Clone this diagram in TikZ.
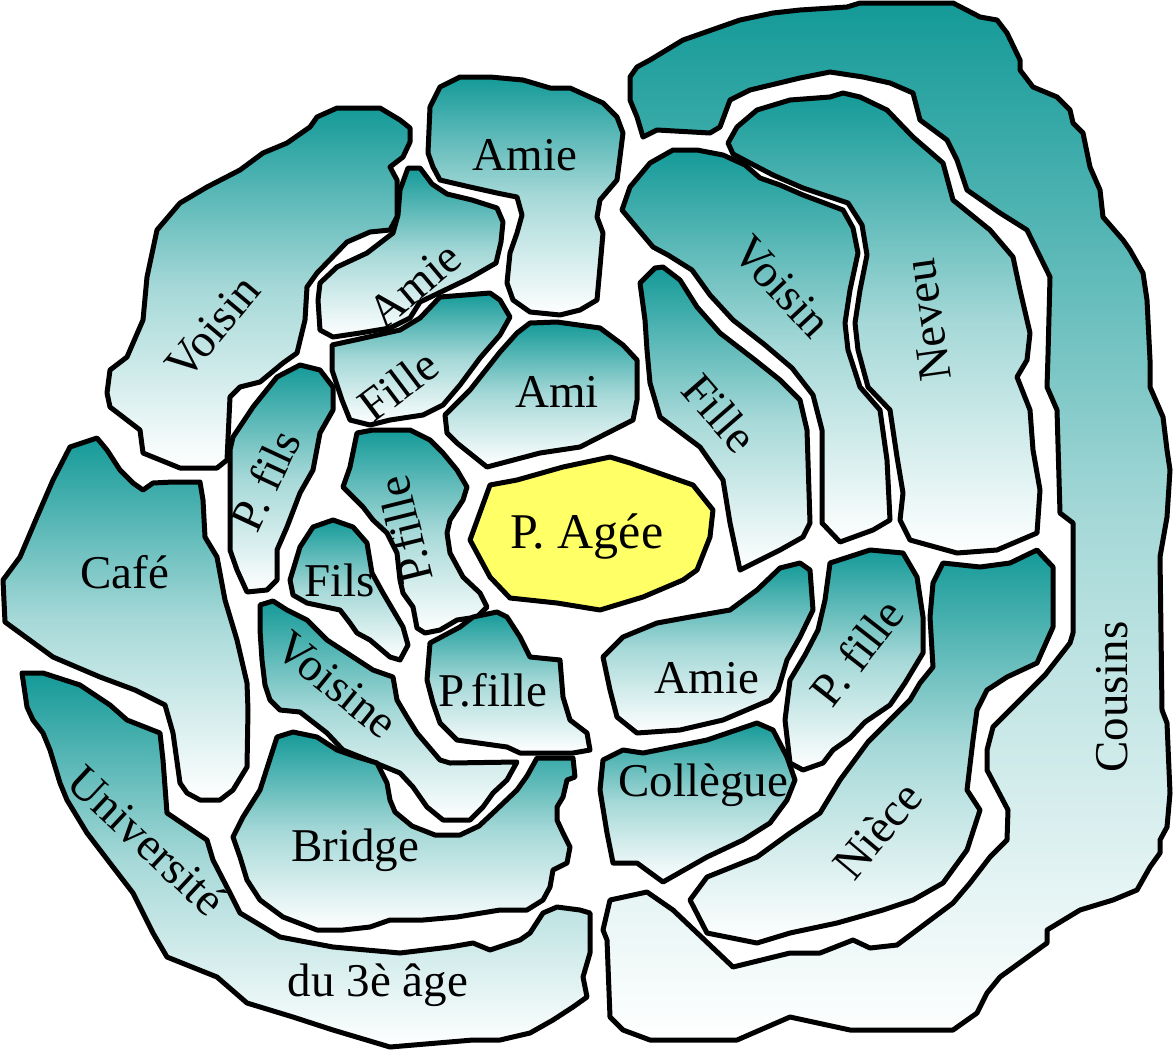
\documentclass[tikz,border=0pt]{standalone}
\usepackage{fontspec}
\setmainfont{Liberation Serif}
\usepackage{tikz}
\definecolor{NetTeal}{HTML}{149A98}
\definecolor{NetYellow}{HTML}{FFFF66}

\begin{document}
\begin{tikzpicture}[
  x=1pt, y=-1pt,
  blob/.style={draw=black, line width=5pt, line join=round, top color=NetTeal, bottom color=white, middle color=NetTeal!38!white},
  core/.style={draw=black, line width=5pt, line join=round, fill=NetYellow},
  lbl/.style={font=\fontsize{47}{50}\selectfont, inner sep=0pt}
]
\useasboundingbox (0,0) rectangle (1175,1053);
% outer ring
\path[blob] (630,77) -- (637,67) -- (650,60) -- (683,40) -- (703,33) -- (740,20) -- (773,13) -- (800,10) -- (847,7) -- (860,3) -- (953,3) -- (980,17) -- (997,20) -- (1007,33) -- (1020,60) -- (1020,70) -- (1033,87) -- (1057,97) -- (1070,110) -- (1073,123) -- (1083,133) -- (1090,167) -- (1100,190) -- (1103,217) -- (1123,240) -- (1130,250) -- (1143,273) -- (1147,300) -- (1150,360) -- (1150,387) -- (1163,417) -- (1167,450) -- (1170,470) -- (1167,517) -- (1160,557) -- (1162,710) -- (1167,723) -- (1170,793) -- (1167,827) -- (1160,840) -- (1160,853) -- (1150,867) -- (1137,890) -- (1113,900) -- (1080,910) -- (1047,930) -- (1047,943) -- (1000,977) -- (987,993) -- (977,1013) -- (953,1030) -- (850,1030) -- (790,1017) -- (737,1040) -- (650,1040) -- (623,1030) -- (610,1017) -- (607,940) -- (603,930) -- (610,900) -- (647,892) -- (673,910) -- (733,967) -- (790,953) -- (820,953) -- (853,940) -- (870,948) -- (897,945) -- (953,903) -- (970,883) -- (990,857) -- (1007,840) -- (1008,810) -- (987,770) -- (987,750) -- (993,727) -- (1020,700) -- (1045,675) -- (1070,643) -- (1073,633) -- (1073,523) -- (1060,513) -- (1057,410) -- (1047,387) -- (1048,355) -- (1050,277) -- (1027,230) -- (1000,213) -- (967,190) -- (957,160) -- (947,140) -- (920,120) -- (913,93) -- (890,83) -- (863,77) -- (830,72) -- (800,78) -- (750,90) -- (730,100) -- (720,127) -- (710,133) -- (657,130) -- (643,137) -- (637,117) -- (630,100) -- cycle;
\path[blob] (728,143) -- (737,127) -- (757,110) -- (790,100) -- (830,97) -- (843,93) -- (860,97) -- (887,110) -- (913,137) -- (943,163) -- (953,200) -- (990,230) -- (1013,257) -- (1020,290) -- (1030,333) -- (1027,360) -- (1017,377) -- (1030,410) -- (1033,450) -- (1040,490) -- (1037,533) -- (997,550) -- (957,553) -- (910,540) -- (900,520) -- (903,493) -- (897,457) -- (890,410) -- (868,387) -- (858,350) -- (855,323) -- (860,290) -- (867,255) -- (862,225) -- (848,203) -- (803,188) -- (773,175) -- (750,163) -- (733,154) -- cycle;
\path[blob] (933,583) -- (943,563) -- (980,567) -- (1010,563) -- (1037,550) -- (1053,567) -- (1053,627) -- (1037,663) -- (1007,677) -- (987,690) -- (977,710) -- (973,740) -- (967,790) -- (980,810) -- (967,850) -- (943,883) -- (913,900) -- (883,910) -- (837,923) -- (790,933) -- (757,943) -- (707,933) -- (690,900) -- (707,877) -- (757,857) -- (790,833) -- (820,813) -- (840,780) -- (868,742) -- (910,700) -- (920,683) -- (933,667) -- (930,617) -- cycle;
\path[blob] (337,108) -- (380,108) -- (400,120) -- (410,128) -- (410,142) -- (403,157) -- (390,167) -- (397,180) -- (397,217) -- (390,230) -- (370,232) -- (347,242) -- (317,273) -- (307,287) -- (305,320) -- (297,353) -- (283,363) -- (260,382) -- (240,387) -- (230,397) -- (227,460) -- (217,468) -- (180,468) -- (143,453) -- (140,430) -- (110,407) -- (107,393) -- (110,370) -- (127,357) -- (143,320) -- (147,277) -- (157,230) -- (180,203) -- (207,187) -- (240,170) -- (263,153) -- (287,143) -- (310,127) -- (317,117) -- cycle;
\path[blob] (97,438) -- (70,447) -- (53,480) -- (37,517) -- (20,557) -- (3,580) -- (5,622) -- (53,657) -- (100,677) -- (135,690) -- (165,705) -- (173,733) -- (180,783) -- (187,793) -- (200,800) -- (220,800) -- (233,790) -- (247,767) -- (248,710) -- (247,683) -- (237,640) -- (225,600) -- (217,557) -- (205,537) -- (203,500) -- (200,482) -- (173,482) -- (153,483) -- (143,490) -- (133,483) -- (120,470) -- (107,450) -- cycle;
\path[blob] (22,673) -- (43,673) -- (80,685) -- (110,705) -- (127,720) -- (160,733) -- (163,760) -- (167,813) -- (207,840) -- (213,860) -- (230,893) -- (240,913) -- (280,937) -- (333,947) -- (400,953) -- (450,947) -- (473,943) -- (490,950) -- (520,940) -- (530,933) -- (543,913) -- (557,907) -- (580,910) -- (590,913) -- (590,953) -- (583,977) -- (587,997) -- (573,1007) -- (553,1020) -- (530,1033) -- (500,1040) -- (473,1040) -- (390,1047) -- (333,1030) -- (293,1017) -- (247,1003) -- (217,977) -- (167,957) -- (153,933) -- (133,893) -- (113,867) -- (87,833) -- (67,800) -- (60,783) -- (50,750) -- (43,733) -- (33,720) -- (27,707) -- cycle;
% middle ring
\path[blob] (430,107) -- (440,87) -- (460,77) -- (490,77) -- (523,80) -- (550,88) -- (570,88) -- (603,103) -- (617,117) -- (623,133) -- (620,157) -- (617,180) -- (600,200) -- (597,217) -- (603,233) -- (600,267) -- (597,300) -- (580,310) -- (560,315) -- (530,312) -- (513,300) -- (507,283) -- (510,253) -- (517,233) -- (522,215) -- (517,197) -- (497,193) -- (470,187) -- (440,180) -- (433,167) -- (428,153) -- cycle;
\path[blob] (408,168) -- (420,168) -- (432,184) -- (447,194) -- (472,200) -- (497,208) -- (503,222) -- (501,242) -- (496,263) -- (470,278) -- (445,290) -- (420,302) -- (410,318) -- (390,328) -- (360,333) -- (333,337) -- (320,330) -- (318,300) -- (320,283) -- (337,267) -- (367,253) -- (393,233) -- (398,215) -- (400,190) -- cycle;
\path[blob] (673,150) -- (697,150) -- (723,155) -- (745,165) -- (760,178) -- (780,185) -- (803,195) -- (843,210) -- (853,228) -- (858,253) -- (850,290) -- (845,323) -- (848,350) -- (860,387) -- (880,410) -- (887,460) -- (890,520) -- (873,530) -- (840,542) -- (822,523) -- (822,430) -- (813,395) -- (792,368) -- (765,345) -- (733,320) -- (710,295) -- (692,270) -- (668,255) -- (653,247) -- (637,228) -- (622,210) -- (630,187) -- (650,163) -- cycle;
\path[blob] (290,580) -- (300,547) -- (313,527) -- (333,520) -- (353,527) -- (367,543) -- (372,573) -- (383,593) -- (393,610) -- (403,627) -- (408,645) -- (400,660) -- (390,657) -- (370,640) -- (357,633) -- (350,623) -- (340,610) -- (307,603) -- (293,595) -- cycle;
\path[blob] (233,437) -- (253,407) -- (277,377) -- (300,365) -- (320,370) -- (333,387) -- (333,410) -- (320,433) -- (313,470) -- (300,493) -- (287,527) -- (277,550) -- (277,580) -- (267,590) -- (247,592) -- (237,570) -- (230,550) -- (230,450) -- cycle;
\path[blob] (260,605) -- (273,601) -- (287,610) -- (307,620) -- (327,640) -- (347,653) -- (373,670) -- (393,677) -- (397,700) -- (407,717) -- (417,733) -- (440,760) -- (450,763) -- (517,762) -- (507,780) -- (493,793) -- (483,807) -- (470,820) -- (443,820) -- (427,807) -- (413,787) -- (400,773) -- (373,762) -- (343,750) -- (327,733) -- (300,712) -- (280,710) -- (270,700) -- (265,685) -- (262,660) -- (260,630) -- cycle;
\path[blob] (277,737) -- (293,732) -- (317,737) -- (337,750) -- (357,757) -- (377,763) -- (387,783) -- (390,800) -- (395,812) -- (412,826) -- (435,835) -- (460,835) -- (479,826) -- (495,811) -- (517,790) -- (527,776) -- (537,758) -- (573,758) -- (575,777) -- (567,780) -- (563,797) -- (557,807) -- (557,820) -- (563,833) -- (570,847) -- (567,863) -- (553,870) -- (550,887) -- (543,900) -- (527,910) -- (500,910) -- (457,917) -- (423,920) -- (390,920) -- (370,927) -- (343,930) -- (317,930) -- (283,917) -- (260,900) -- (247,880) -- (240,857) -- (233,837) -- (243,817) -- (260,790) -- cycle;
\path[blob] (603,760) -- (623,750) -- (643,753) -- (673,747) -- (707,740) -- (757,723) -- (773,730) -- (787,757) -- (795,780) -- (787,800) -- (770,823) -- (743,840) -- (707,857) -- (663,882) -- (637,863) -- (613,863) -- (607,833) -- (600,790) -- cycle;
\path[blob] (830,563) -- (870,550) -- (903,553) -- (917,577) -- (923,617) -- (923,653) -- (905,683) -- (890,705) -- (865,722) -- (850,738) -- (833,750) -- (823,763) -- (803,770) -- (790,763) -- (785,720) -- (790,680) -- (805,655) -- (818,630) -- (825,600) -- cycle;
% inner ring
\path[blob] (332,345) -- (355,340) -- (400,330) -- (420,318) -- (440,297) -- (490,293) -- (500,300) -- (510,317) -- (500,335) -- (480,358) -- (460,385) -- (443,405) -- (423,415) -- (390,420) -- (370,425) -- (350,420) -- (342,400) -- (332,370) -- cycle;
\path[blob] (445,415) -- (470,390) -- (500,352) -- (517,333) -- (530,323) -- (557,322) -- (600,328) -- (623,345) -- (637,360) -- (637,400) -- (633,420) -- (580,447) -- (540,453) -- (487,467) -- (457,443) -- (447,433) -- cycle;
\path[blob] (640,283) -- (655,268) -- (663,267) -- (680,280) -- (697,307) -- (720,333) -- (755,360) -- (780,380) -- (800,400) -- (807,430) -- (810,523) -- (803,537) -- (780,550) -- (740,570) -- (730,523) -- (723,480) -- (700,447) -- (660,417) -- (650,383) -- (647,350) -- (645,320) -- cycle;
\path[blob] (357,433) -- (373,430) -- (410,430) -- (430,440) -- (443,453) -- (457,470) -- (467,487) -- (463,500) -- (450,520) -- (447,533) -- (450,553) -- (463,577) -- (480,593) -- (487,607) -- (477,617) -- (457,620) -- (440,630) -- (425,633) -- (417,628) -- (413,607) -- (403,593) -- (400,580) -- (397,553) -- (387,533) -- (373,520) -- (363,507) -- (343,487) -- (350,467) -- cycle;
\path[blob] (430,643) -- (460,627) -- (473,617) -- (497,612) -- (507,617) -- (520,637) -- (530,657) -- (560,660) -- (563,697) -- (570,720) -- (587,733) -- (590,750) -- (573,753) -- (520,753) -- (507,747) -- (457,740) -- (440,723) -- (433,703) -- (427,680) -- cycle;
\path[blob] (603,657) -- (623,637) -- (657,623) -- (690,617) -- (730,610) -- (757,590) -- (780,568) -- (800,563) -- (810,570) -- (813,610) -- (800,637) -- (787,660) -- (778,690) -- (770,700) -- (723,720) -- (680,730) -- (637,733) -- (617,717) -- (610,690) -- cycle;
\path[core] (470,540) -- (490,485) -- (517,480) -- (563,467) -- (610,457) -- (630,463) -- (693,485) -- (713,510) -- (710,537) -- (697,570) -- (683,580) -- (643,597) -- (600,610) -- (557,603) -- (510,598) -- (490,577) -- cycle;
% labels
\node[lbl, font=\fontsize{50}{54}\selectfont] (agee) at (587,537) {P. Agée};
\node[lbl] (amieT) at (525,155) {Amie};
\node[lbl, rotate=50] (voisinL) at (213,327) {Voisin};
\node[lbl, rotate=40] (amieS) at (415,285) {Amie};
\node[lbl, rotate=37] (filleS) at (398,385) {Fille};
\node[lbl] (ami) at (557,392) {Ami};
\node[lbl, rotate=-47] (voisinR) at (782,287) {Voisin};
\node[lbl, rotate=98] (neveu) at (928,320) {Neveu};
\node[lbl, rotate=-49] (filleR) at (720,413) {Fille};
\node[lbl, rotate=65] (pfils) at (265,480) {P. fils};
\node[lbl, rotate=104] (pfilleC) at (405,530) {P.fille};
\node[lbl] (fils) at (340,580) {Fils};
\node[lbl] (cafe) at (125,572) {Café};
\node[lbl, rotate=-39] (voisine) at (337,685) {Voisine};
\node[lbl] (pfilleB) at (493,690) {P.fille};
\node[lbl] (amieB) at (707,678) {Amie};
\node[lbl] (collegue) at (703,785) {Collègue};
\node[lbl] (bridge) at (355,850) {Bridge};
\node[lbl, rotate=52] (pfilleR) at (857,652) {P. fille};
\node[lbl, rotate=50] (niece) at (877,830) {Nièce};
\node[lbl, rotate=90] (cousins) at (1112,697) {Cousins};
\node[lbl, rotate=-43] (univ) at (147,840) {Université};
\node[lbl] (age) at (378,985) {du 3è âge};
\end{tikzpicture}
\end{document}
